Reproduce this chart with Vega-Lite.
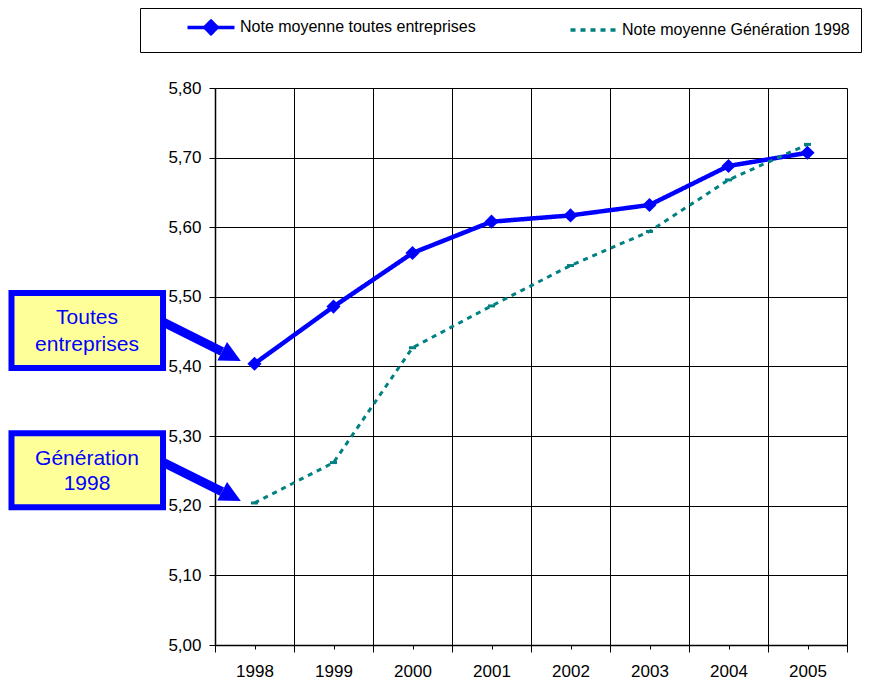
{
  "$schema": "https://vega.github.io/schema/vega-lite/v6.json",
  "width": 632,
  "height": 557,
  "autosize": {"type": "none"},
  "padding": {"left": 215, "top": 88, "right": 32, "bottom": 40},
  "background": "white",
  "config": {
    "font": "Liberation Sans",
    "view": {"stroke": null},
    "axis": {"labelFont": "Liberation Sans", "titleFont": "Liberation Sans"},
    "legend": {"labelFont": "Liberation Sans", "titleFont": "Liberation Sans"}
  },
  "datasets": {
    "notes": [
      {"annee": 1998, "note": 5.404, "serie": "Note moyenne toutes entreprises"},
      {"annee": 1999, "note": 5.486, "serie": "Note moyenne toutes entreprises"},
      {"annee": 2000, "note": 5.563, "serie": "Note moyenne toutes entreprises"},
      {"annee": 2001, "note": 5.608, "serie": "Note moyenne toutes entreprises"},
      {"annee": 2002, "note": 5.617, "serie": "Note moyenne toutes entreprises"},
      {"annee": 2003, "note": 5.632, "serie": "Note moyenne toutes entreprises"},
      {"annee": 2004, "note": 5.688, "serie": "Note moyenne toutes entreprises"},
      {"annee": 2005, "note": 5.707, "serie": "Note moyenne toutes entreprises"},
      {"annee": 1998, "note": 5.204, "serie": "Note moyenne Génération 1998"},
      {"annee": 1999, "note": 5.262, "serie": "Note moyenne Génération 1998"},
      {"annee": 2000, "note": 5.427, "serie": "Note moyenne Génération 1998"},
      {"annee": 2001, "note": 5.487, "serie": "Note moyenne Génération 1998"},
      {"annee": 2002, "note": 5.545, "serie": "Note moyenne Génération 1998"},
      {"annee": 2003, "note": 5.594, "serie": "Note moyenne Génération 1998"},
      {"annee": 2004, "note": 5.668, "serie": "Note moyenne Génération 1998"},
      {"annee": 2005, "note": 5.719, "serie": "Note moyenne Génération 1998"}
    ],
    "encadres": [
      {"x1": 1994.924, "x2": 1996.842, "y1": 5.3977, "y2": 5.5055},
      {"x1": 1994.924, "x2": 1996.842, "y1": 5.198, "y2": 5.3043}
    ],
    "textes": [
      {"x": 1995.88, "y": 5.4695, "texte": "Toutes"},
      {"x": 1995.88, "y": 5.4307, "texte": "entreprises"},
      {"x": 1995.88, "y": 5.267, "texte": "Génération"},
      {"x": 1995.88, "y": 5.231, "texte": "1998"}
    ],
    "fleches": [
      {"x1": 1996.842, "y1": 5.4638, "x2": 1997.5886, "y2": 5.4214, "xp": 1997.7089, "yp": 5.4149},
      {"x1": 1996.842, "y1": 5.2626, "x2": 1997.5886, "y2": 5.2203, "xp": 1997.7089, "yp": 5.2138}
    ]
  },
  "resolve": {"axis": {"x": "independent"}},
  "layer": [
    {
      "data": {"name": "encadres"},
      "mark": {"type": "rect", "fill": "#FFFF99", "stroke": "#0000FF", "strokeWidth": 6},
      "encoding": {
        "x": {
          "field": "x1", "type": "quantitative",
          "scale": {"domain": [1997.5, 2005.5], "nice": false, "zero": false},
          "axis": {
            "orient": "bottom",
            "values": [1997.5, 1998.5, 1999.5, 2000.5, 2001.5, 2002.5, 2003.5, 2004.5, 2005.5],
            "labels": false, "grid": true, "gridColor": "black", "gridOpacity": 1, "gridWidth": 1,
            "tickSize": 7, "tickColor": "black", "tickWidth": 1, "domain": false, "title": null
          }
        },
        "x2": {"field": "x2"},
        "y": {
          "field": "y1", "type": "quantitative",
          "scale": {"domain": [5.0, 5.8], "nice": false, "zero": false},
          "axis": {
            "values": [5.0, 5.1, 5.2, 5.3, 5.4, 5.5, 5.6, 5.7, 5.8],
            "grid": true, "gridColor": "black", "gridOpacity": 1, "gridWidth": 1,
            "tickSize": 6, "tickColor": "black", "domainColor": "black", "domainWidth": 1.5,
            "labelExpr": "replace(format(datum.value, '.2f'), '.', ',')",
            "labelFontSize": 17, "labelColor": "black", "labelPadding": 8, "title": null
          }
        },
        "y2": {"field": "y2"}
      }
    },
    {
      "data": {"name": "fleches"},
      "mark": {"type": "rule", "color": "#0000FF", "strokeWidth": 9},
      "encoding": {
        "x": {"field": "x1", "type": "quantitative", "axis": null},
        "x2": {"field": "x2"},
        "y": {"field": "y1", "type": "quantitative"},
        "y2": {"field": "y2"}
      }
    },
    {
      "data": {"name": "fleches"},
      "mark": {"type": "point", "shape": "M1,0L-1,-1L-1,1Z", "filled": true, "color": "#0000FF", "opacity": 1, "size": 441, "angle": 27.5},
      "encoding": {
        "x": {"field": "xp", "type": "quantitative", "axis": null},
        "y": {"field": "yp", "type": "quantitative"}
      }
    },
    {
      "data": {"name": "textes"},
      "mark": {"type": "text", "fontSize": 21, "color": "#0000FF", "align": "center", "baseline": "middle", "font": "Liberation Sans"},
      "encoding": {
        "x": {"field": "x", "type": "quantitative", "axis": null},
        "y": {"field": "y", "type": "quantitative"},
        "text": {"field": "texte"}
      }
    },
    {
      "data": {"name": "notes"},
      "mark": {"type": "line"},
      "encoding": {
        "x": {
          "field": "annee", "type": "quantitative",
          "axis": {
            "orient": "bottom",
            "values": [1998, 1999, 2000, 2001, 2002, 2003, 2004, 2005],
            "format": "d", "grid": false, "tickSize": 4, "tickColor": "black",
            "domainColor": "black", "domainWidth": 1.5, "labelFontSize": 17, "labelColor": "black",
            "labelPadding": 14, "labelOverlap": false, "labelFlush": false, "title": null
          }
        },
        "y": {"field": "note", "type": "quantitative"},
        "strokeWidth": {"condition": {"test": "datum.serie === 'Note moyenne toutes entreprises'", "value": 4.5}, "value": 3},
        "color": {
          "field": "serie", "type": "nominal",
          "scale": {"domain": ["Note moyenne toutes entreprises", "Note moyenne Génération 1998"], "range": ["#0000FF", "#008080"]},
          "legend": {
            "orient": "none", "legendX": -75, "legendY": -80, "direction": "horizontal",
            "title": "\u00a0", "titleOrient": "left", "titlePadding": 33, "titleFontSize": 16,
            "strokeColor": "black", "fillColor": "white", "padding": 11, "cornerRadius": 0,
            "gridAlign": "all", "columnPadding": 87, "labelOffset": 21, "labelFontSize": 16,
            "labelColor": "black", "labelLimit": 400, "symbolSize": 100, "symbolStrokeWidth": 3.5,
            "symbolOffset": 19,
            "encode": {
              "symbols": {
                "update": {
                  "shape": {"signal": "datum.value === 'Note moyenne toutes entreprises' ? 'M-4.7,0H4.7M0,-1.25L1.25,0L0,1.25L-1.25,0Z' : 'M-4.5,0H4.5'"},
                  "fill": {"signal": "datum.value === 'Note moyenne toutes entreprises' ? '#0000FF' : 'transparent'"},
                  "strokeDash": {"signal": "datum.value === 'Note moyenne toutes entreprises' ? [1, 0] : [6, 5]"},
                  "opacity": {"value": 1}
                }
              }
            }
          }
        },
        "strokeDash": {
          "field": "serie", "type": "nominal",
          "scale": {"domain": ["Note moyenne toutes entreprises", "Note moyenne Génération 1998"], "range": [[1, 0], [5, 5]]}
        }
      }
    },
    {
      "data": {"name": "notes"},
      "transform": [{"filter": "datum.serie === 'Note moyenne toutes entreprises'"}],
      "mark": {"type": "point", "shape": "diamond", "filled": true, "color": "#0000FF", "opacity": 1, "size": 200},
      "encoding": {
        "x": {"field": "annee", "type": "quantitative", "axis": null},
        "y": {"field": "note", "type": "quantitative"}
      }
    },
    {
      "data": {"name": "notes"},
      "transform": [{"filter": "datum.serie === 'Note moyenne Génération 1998'"}],
      "mark": {"type": "point", "shape": "M-1,0H1", "filled": false, "color": "#008080", "strokeWidth": 3, "opacity": 1, "size": 49},
      "encoding": {
        "x": {"field": "annee", "type": "quantitative", "axis": null},
        "y": {"field": "note", "type": "quantitative"}
      }
    }
  ]
}
